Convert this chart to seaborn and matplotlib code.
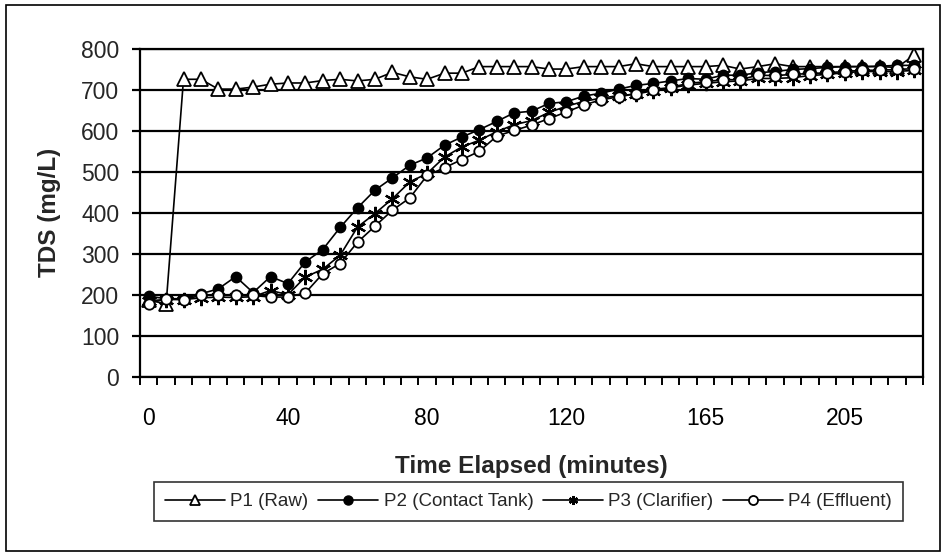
import matplotlib
matplotlib.use("Agg")
import matplotlib.pyplot as plt
import seaborn as sns
import numpy as np
import pandas as pd
from matplotlib.patches import Rectangle

# Time categories (minutes)
times = [0, 5, 10, 15, 20, 25, 30, 35, 40, 45, 50, 55, 60, 65, 70, 75, 80, 85, 90, 95,
         100, 105, 110, 115, 120, 125, 130, 135, 140, 145, 150, 155, 165, 170, 175, 180,
         185, 190, 195, 200, 205, 210, 215, 220, 225]
tick_idx = [0, 8, 16, 24, 32, 40]

p1_raw = [188, 176, 726, 726, 702, 702, 707, 714, 717, 717, 723, 726, 722, 726, 743, 732,
          726, 741, 741, 757, 757, 757, 757, 751, 751, 757, 757, 757, 764, 757, 757, 757,
          757, 760, 751, 757, 764, 757, 757, 757, 757, 757, 757, 755, 785]
p2_contact = [196, 190, 190, 202, 214, 244, 205, 244, 227, 280, 310, 364, 412, 455, 485, 516,
              534, 565, 585, 603, 623, 644, 648, 667, 671, 685, 692, 702, 711, 716, 722, 728,
              726, 736, 736, 742, 745, 750, 752, 755, 757, 757, 758, 760, 760]
p3_clarifier = [185, 188, 188, 192, 194, 193, 195, 210, 200, 243, 262, 296, 365, 398, 434, 475,
                496, 536, 561, 577, 598, 615, 625, 645, 660, 672, 680, 686, 690, 698, 705, 712,
                716, 720, 722, 728, 728, 730, 735, 738, 742, 745, 745, 745, 748]
p4_effluent = [178, 190, 188, 198, 200, 198, 198, 194, 194, 204, 251, 276, 328, 367, 406, 436,
               491, 510, 530, 550, 587, 601, 614, 630, 646, 663, 676, 683, 691, 701, 706, 716,
               720, 725, 725, 736, 735, 738, 740, 742, 745, 748, 748, 750, 752]

series_names = ["P1 (Raw)", "P2 (Contact Tank)", "P3 (Clarifier)", "P4 (Effluent)"]
series_vals = [p1_raw, p2_contact, p3_clarifier, p4_effluent]

sns.set_theme(style="white")
plt.rcParams['font.family'] = ['Liberation Sans', 'DejaVu Sans']

fig = plt.figure(figsize=(9.46, 5.56), dpi=100)
fig.patch.set_facecolor("white")
fig.patches.append(Rectangle((6/946, 5/556), 1 - 12/946, 1 - 10/556, transform=fig.transFigure,
                             fill=False, edgecolor="black", linewidth=1.2, zorder=10))

ax = fig.add_axes([140/946, 1-376.5/556, (923-140)/946, (376.5-49)/556])

styles = [
    dict(marker="^", markersize=9.5, markerfacecolor="white", markeredgecolor="black", markeredgewidth=1.3),
    dict(marker="o", markersize=7.5, markerfacecolor="black", markeredgecolor="black", markeredgewidth=1.0),
    dict(marker=(6, 2, 0), markersize=11, markerfacecolor="black", markeredgecolor="black", markeredgewidth=1.6),
    dict(marker="o", markersize=7.5, markerfacecolor="white", markeredgecolor="black", markeredgewidth=1.3),
]

idx = np.arange(len(times))
for k, (name, vals, st) in enumerate(zip(series_names, series_vals, styles)):
    df = pd.DataFrame({"idx": idx, "val": vals})
    sns.lineplot(data=df, x="idx", y="val", ax=ax, color="black", linewidth=1.2,
                 label=name, zorder=3 + k, **st)

ax.set_xlim(-0.5, len(times) - 0.5)
ax.set_ylim(0, 800)
ax.set_yticks(np.arange(0, 801, 100))
ax.yaxis.grid(True, color="black", linewidth=1.6)
ax.set_axisbelow(True)
for s in ax.spines.values():
    s.set_color("black")
    s.set_linewidth(1.6)

# x ticks at category boundaries, labels at selected categories
ax.set_xticks(np.arange(-0.5, len(times), 1.0), minor=True)
ax.set_xticks(tick_idx)
ax.set_xticklabels([str(times[i]) for i in tick_idx])
ax.tick_params(axis="x", which="major", length=0, pad=22, labelsize=16.5, colors="black")
ax.tick_params(axis="x", which="minor", length=6, width=1.4, direction="out", color="black", bottom=True)
ax.tick_params(axis="y", which="major", length=6, width=1.6, direction="out", color="black",
               labelsize=16.5, pad=9, left=True)

ax.set_xlabel("Time Elapsed (minutes)", fontsize=17.5, fontweight="bold", labelpad=18)
ax.set_ylabel("TDS (mg/L)", fontsize=17.5, fontweight="bold", labelpad=14)

ax.legend_.remove()
handles, labels = ax.get_legend_handles_labels()
leg = fig.legend(handles, labels, loc="center", bbox_to_anchor=(528.5/946, 1-501.5/556), ncol=4,
                 frameon=True, fancybox=False, edgecolor="black",
                 handlelength=3.2, handletextpad=0.3, columnspacing=0.5, borderpad=0.6,
                 prop={"family": ["Liberation Sans"], "size": 13.5})
leg.get_frame().set_linewidth(1.2)
for h in leg.legend_handles:
    h.set_markersize(6.5)

fig.savefig("out.png", dpi=100, facecolor="white")
